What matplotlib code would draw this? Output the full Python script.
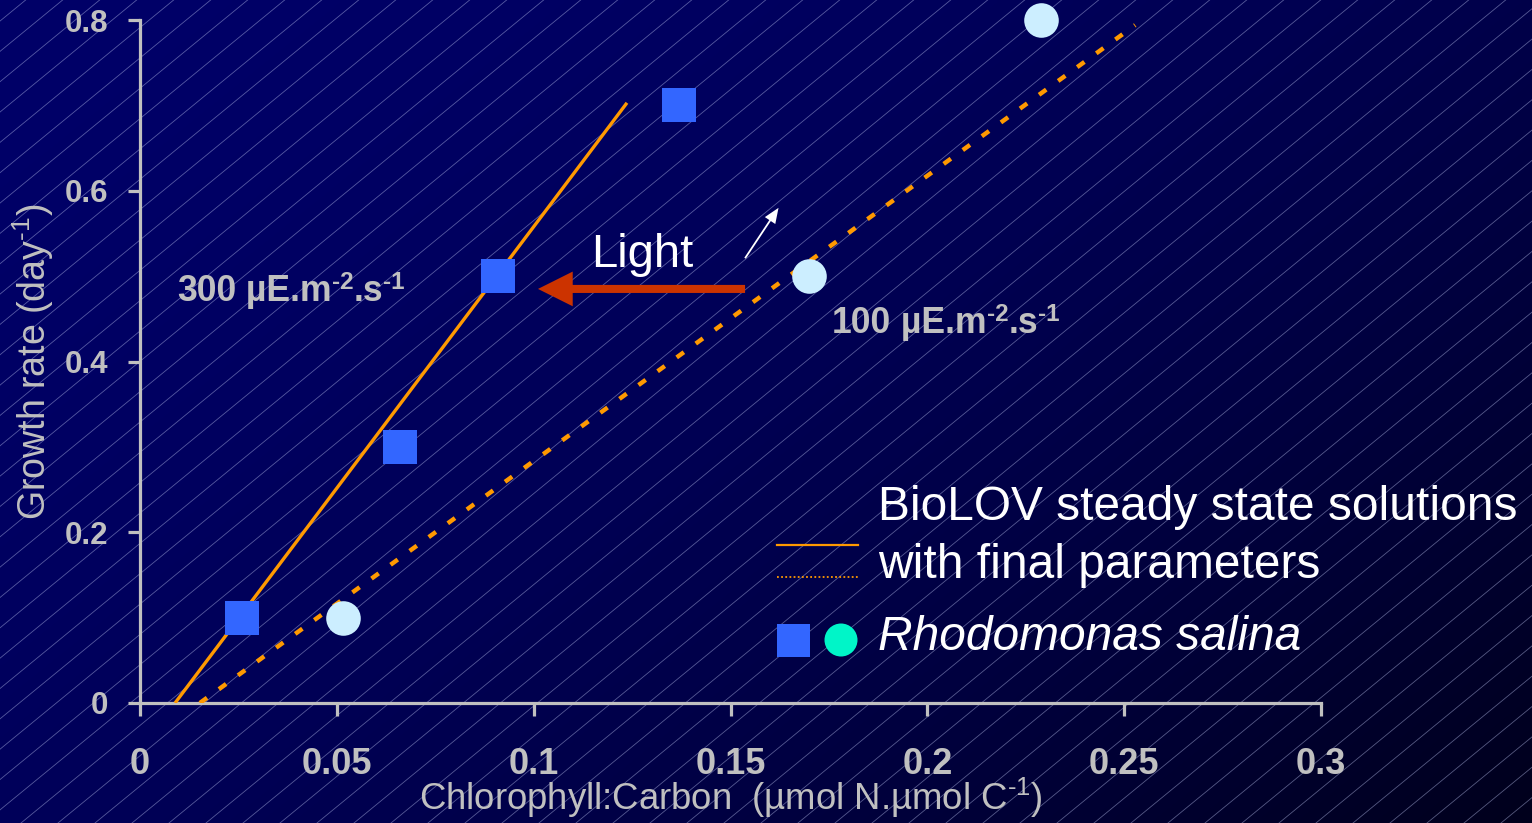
import numpy as np
import matplotlib
matplotlib.use("Agg")
import matplotlib.pyplot as plt
from matplotlib.patches import Rectangle, Circle

plt.rcParams['font.family'] = ['Liberation Sans', 'DejaVu Sans']
plt.rcParams['mathtext.fontset'] = 'custom'
plt.rcParams['mathtext.rm'] = 'Liberation Sans'
plt.rcParams['mathtext.it'] = 'Liberation Sans:italic'
plt.rcParams['mathtext.bf'] = 'Liberation Sans:bold'

# ---- data ----
sq_x = [0.026, 0.066, 0.091, 0.137]      # 300 uE squares
sq_y = [0.1, 0.3, 0.5, 0.7]
ci_x = [0.0515, 0.170, 0.229]            # 100 uE circles
ci_y = [0.1, 0.5, 0.8]
fit300_x = [0.0089, 0.1237]
fit300_y = [0.0, 0.703]
fit100_x = [0.0152, 0.2528]
fit100_y = [0.0, 0.794]
xticks = [0, 0.05, 0.1, 0.15, 0.2, 0.25, 0.3]
xticklabels = ['0', '0.05', '0.1', '0.15', '0.2', '0.25', '0.3']
yticks = [0, 0.2, 0.4, 0.6, 0.8]
yticklabels = ['0', '0.2', '0.4', '0.6', '0.8']

W, H = 1532, 823
fig = plt.figure(figsize=(W/100, H/100), dpi=100)

# ---- background gradient + diagonal hatch ----
bg = fig.add_axes([0, 0, 1, 1], zorder=-10)
bg.set_xlim(0, W); bg.set_ylim(H, 0); bg.axis('off')
xx, yy = np.meshgrid(np.linspace(0, 1, 300), np.linspace(0, 1, 160))
t = np.clip((0.6*xx + 0.4*yy) ** 1.8, 0, 1)
c0 = np.array([0, 0, 104]) / 255.
c1 = np.array([0, 0, 28]) / 255.
img = c0[None, None, :]*(1-t[..., None]) + c1[None, None, :]*t[..., None]
bg.imshow(img, extent=[0, W, H, 0], aspect='auto', interpolation='bilinear')
slope = 0.82
spacing = 37
for x0 in np.arange(-1200, W + 200, spacing):
    bg.plot([x0, x0 + H/slope], [H, 0], color=(0.75, 0.78, 0.95), lw=0.6, alpha=0.45)

# ---- main axes ----
ax = fig.add_axes([140/W, 1-703/H, (1321-140)/W, (703-20)/H])
ax.patch.set_alpha(0)
ax.set_xlim(0, 0.3)
ax.set_ylim(0, 0.8)
gray = '#c0c0c0'
for s in ['top', 'right']:
    ax.spines[s].set_visible(False)
for s in ['left', 'bottom']:
    ax.spines[s].set_color(gray)
    ax.spines[s].set_linewidth(2.3)
ax.tick_params(colors=gray, width=2.3, length=9, direction='out')
ax.set_xticks(xticks)
ax.set_xticklabels(xticklabels, fontsize=26, fontweight='bold', color=gray)
ax.set_yticks(yticks)
ax.set_yticklabels(yticklabels, fontsize=22.5, fontweight='bold', color=gray)
ax.tick_params(axis='x', pad=23)
ax.tick_params(axis='y', pad=14)

ax.set_xlabel(r'Chlorophyll:Carbon  (µmol N.µmol C$^{\text{-}1}$)', fontsize=26.3, color=gray, labelpad=-5)
ax.set_ylabel(r'Growth rate (day$^{\text{-}1}$)', fontsize=27, color=gray, labelpad=6)

orange = '#ff9900'
ax.plot(fit300_x, fit300_y, color=orange, lw=2.4, solid_capstyle='butt', zorder=3)
ax.plot(fit100_x, fit100_y, color=orange, lw=3.2, linestyle=(0, (2.0, 3.3)), zorder=3)
ax.scatter(sq_x, sq_y, marker='s', s=620, color='#3366ff', zorder=4, clip_on=False, linewidths=0)
ax.scatter(ci_x, ci_y, marker='o', s=620, color='#cceeff', zorder=4, clip_on=False, linewidths=0)


def rich(x, y, parts, color, size, supsize, rise):
    """parts: list of (string, is_superscript)"""
    prev = ax.text(x, y, parts[0][0], fontsize=size, fontweight='bold', color=color,
                   va='bottom', ha='left')
    prev_sup = False
    for s, sup in parts[1:]:
        dy = 0
        if sup and not prev_sup:
            dy = rise
        elif prev_sup and not sup:
            dy = -rise
        prev = ax.annotate(s, xy=(1, 0), xycoords=prev, xytext=(0, dy), textcoords='offset points',
                           fontsize=supsize if sup else size, fontweight='bold', color=color,
                           va='bottom', ha='left')
        prev_sup = sup


lab_parts = [(' µE.m', False), ('-2', True), ('.s', False), ('-1', True)]
rich(0.0094, 0.461, [('300', False)] + lab_parts, gray, 25.6, 17.5, 11)
rich(0.1758, 0.424, [('100', False)] + lab_parts, gray, 25.6, 17.5, 11)

ax.text(0.1275, 0.511, 'Light', fontsize=34, color='white', ha='center', va='baseline')
ax.annotate('', xy=(0.1011, 0.485), xytext=(0.1537, 0.485),
            arrowprops=dict(width=5.8, headwidth=25, headlength=25, color='#cc3300', lw=0,
                            shrink=0))
ax.annotate('', xy=(0.1622, 0.580), xytext=(0.1537, 0.521),
            arrowprops=dict(width=1.3, headwidth=9, headlength=11, color='white', lw=0,
                            shrink=0))

# ---- legend (drawn in figure pixel coords) ----
lg = fig.add_axes([0, 0, 1, 1], zorder=5)
lg.set_xlim(0, W); lg.set_ylim(H, 0); lg.axis('off')
lg.plot([777, 858], [545, 545], color=orange, lw=1.6)
lg.plot([777, 858], [577, 577], color=orange, lw=1.3, linestyle=(0, (1, 1.3)))
lg.add_patch(Rectangle((777, 624), 33, 33, color='#3366ff', lw=0))
lg.add_patch(Circle((841, 640), 16.5, color='#00f5c8', lw=0))
lg.text(878, 508, 'BioLOV steady state solutions', fontsize=34.5, color='white', va='center')
lg.text(878, 566, 'with final parameters', fontsize=34.5, color='white', va='center')
lg.text(878, 638, 'Rhodomonas salina', fontsize=34.5, color='white', va='center', style='italic')

fig.savefig('out.png', dpi=100)
